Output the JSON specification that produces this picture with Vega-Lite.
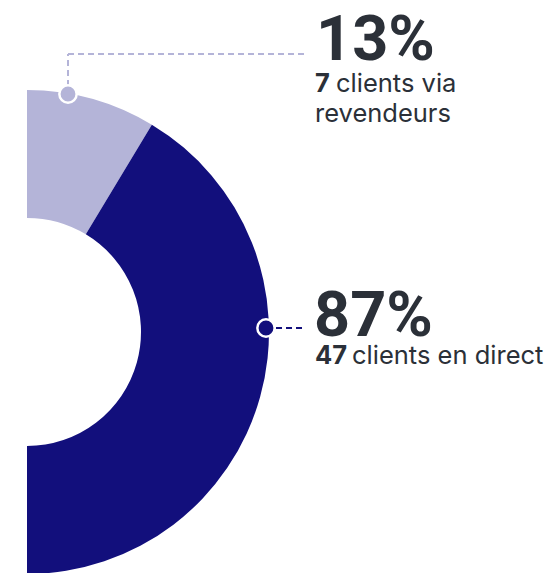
{
  "$schema": "https://vega.github.io/schema/vega-lite/v6.json",
  "width": 556,
  "height": 573,
  "autosize": "none",
  "padding": 0,
  "background": "white",
  "config": {"view": {"stroke": null}},
  "data": {
    "values": [
      {"canal": "revendeurs", "clients": 7, "pct": "13%", "line1": "clients via", "line2": "revendeurs"},
      {"canal": "direct", "clients": 47, "pct": "87%", "line1": "clients en direct", "line2": ""}
    ]
  },
  "layer": [
    {
      "mark": {"type": "arc", "x": 27, "y": 332, "innerRadius": 114, "outerRadius": 242},
      "encoding": {
        "theta": {"field": "clients", "type": "quantitative", "stack": true,
          "scale": {"type": "pow", "exponent": 0.86, "domain": [0, 54], "range": [0, 3.14159265]}},
        "order": {"field": "clients", "sort": "ascending"},
        "color": {"field": "canal", "type": "nominal", "legend": null,
          "scale": {"domain": ["revendeurs", "direct"], "range": ["#b4b4d8", "#120f7c"]}}
      }
    },
    {
      "transform": [{"filter": "datum.canal === 'revendeurs'"}],
      "mark": {"type": "rule", "color": "#b4b4d8", "strokeWidth": 2, "strokeDash": [6, 4]},
      "encoding": {"x": {"value": 68}, "y": {"value": 86}, "x2": {"value": 68}, "y2": {"value": 54}}
    },
    {
      "transform": [{"filter": "datum.canal === 'revendeurs'"}],
      "mark": {"type": "rule", "color": "#b4b4d8", "strokeWidth": 2, "strokeDash": [6, 4]},
      "encoding": {"x": {"value": 68}, "y": {"value": 54}, "x2": {"value": 307}, "y2": {"value": 54}}
    },
    {
      "transform": [{"filter": "datum.canal === 'direct'"}],
      "mark": {"type": "rule", "color": "#120f7c", "strokeWidth": 2, "strokeDash": [6, 4]},
      "encoding": {"x": {"value": 276}, "y": {"value": 328}, "x2": {"value": 305}, "y2": {"value": 328}}
    },
    {
      "transform": [{"filter": "datum.canal === 'revendeurs'"}],
      "mark": {"type": "point", "shape": "circle", "filled": true, "size": 300, "stroke": "white", "strokeWidth": 2.5, "opacity": 1},
      "encoding": {"x": {"value": 68}, "y": {"value": 94}, "fill": {"field": "canal", "type": "nominal", "legend": null, "scale": {"domain": ["revendeurs", "direct"], "range": ["#b4b4d8", "#120f7c"]}}}
    },
    {
      "transform": [{"filter": "datum.canal === 'direct'"}],
      "mark": {"type": "point", "shape": "circle", "filled": true, "size": 300, "stroke": "white", "strokeWidth": 2.5, "opacity": 1},
      "encoding": {"x": {"value": 266}, "y": {"value": 328}, "fill": {"field": "canal", "type": "nominal", "legend": null, "scale": {"domain": ["revendeurs", "direct"], "range": ["#b4b4d8", "#120f7c"]}}}
    },
    {
      "transform": [{"filter": "datum.canal === 'revendeurs'"}],
      "mark": {"type": "text", "align": "left", "baseline": "alphabetic", "font": "Roboto", "fontWeight": "bold", "fontSize": 63, "color": "#2b3038"},
      "encoding": {"x": {"value": 316}, "y": {"value": 60}, "text": {"field": "pct"}}
    },
    {
      "transform": [{"filter": "datum.canal === 'revendeurs'"}],
      "mark": {"type": "text", "align": "left", "baseline": "alphabetic", "font": "Inter", "fontWeight": "bold", "fontSize": 25.5, "color": "#2b3038"},
      "encoding": {"x": {"value": 315}, "y": {"value": 92}, "text": {"field": "clients"}}
    },
    {
      "transform": [{"filter": "datum.canal === 'revendeurs'"}],
      "mark": {"type": "text", "align": "left", "baseline": "alphabetic", "font": "Inter", "fontSize": 25.5, "color": "#2b3038"},
      "encoding": {"x": {"value": 336}, "y": {"value": 92}, "text": {"field": "line1"}}
    },
    {
      "transform": [{"filter": "datum.canal === 'revendeurs'"}],
      "mark": {"type": "text", "align": "left", "baseline": "alphabetic", "font": "Inter", "fontSize": 25.5, "color": "#2b3038"},
      "encoding": {"x": {"value": 315}, "y": {"value": 122}, "text": {"field": "line2"}}
    },
    {
      "transform": [{"filter": "datum.canal === 'direct'"}],
      "mark": {"type": "text", "align": "left", "baseline": "alphabetic", "font": "Roboto", "fontWeight": "bold", "fontSize": 63, "color": "#2b3038"},
      "encoding": {"x": {"value": 314}, "y": {"value": 336}, "text": {"field": "pct"}}
    },
    {
      "transform": [{"filter": "datum.canal === 'direct'"}],
      "mark": {"type": "text", "align": "left", "baseline": "alphabetic", "font": "Inter", "fontWeight": "bold", "fontSize": 25.5, "color": "#2b3038"},
      "encoding": {"x": {"value": 315}, "y": {"value": 364}, "text": {"field": "clients"}}
    },
    {
      "transform": [{"filter": "datum.canal === 'direct'"}],
      "mark": {"type": "text", "align": "left", "baseline": "alphabetic", "font": "Inter", "fontSize": 25.5, "color": "#2b3038"},
      "encoding": {"x": {"value": 352}, "y": {"value": 364}, "text": {"field": "line1"}}
    }
  ]
}
